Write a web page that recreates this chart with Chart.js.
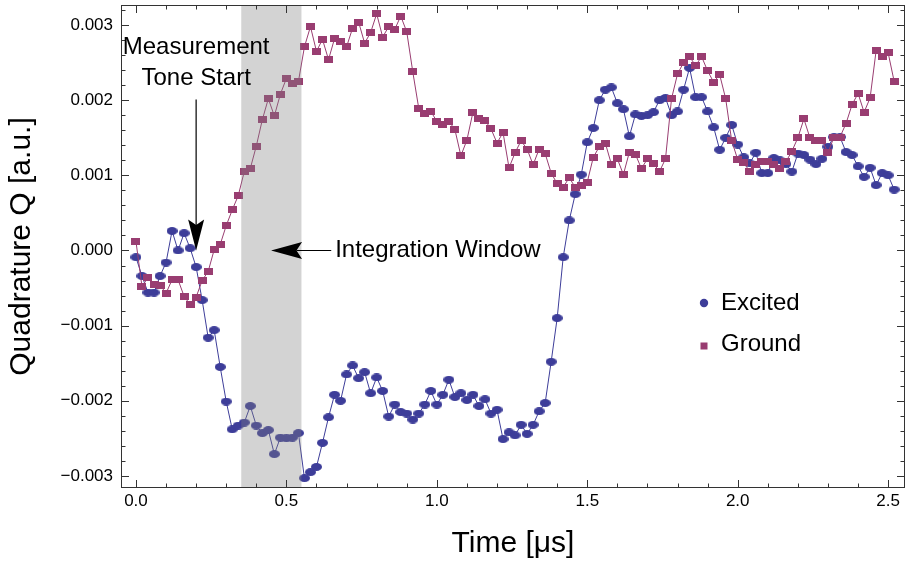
<!DOCTYPE html>
<html>
<head>
<meta charset="utf-8">
<script src="https://cdn.jsdelivr.net/npm/chart.js@4.4.0/dist/chart.umd.min.js"></script>
<style>
html,body{margin:0;padding:0;background:#fff;}
#wrap{width:910px;height:566px;position:relative;}
</style>
</head>
<body>
<div id="wrap"><canvas id="c" width="910" height="566"></canvas></div>
<script>
// ---- data ----
const times = [
  0.00,0.02,0.04,0.06,0.08,0.10,0.12,0.14,0.16,0.18,
  0.20,0.22,0.24,0.26,0.28,0.30,0.32,0.34,0.36,0.38,
  0.40,0.42,0.44,0.46,0.48,0.50,0.52,0.54,0.56,0.58,
  0.60,0.62,0.64,0.66,0.68,0.70,0.72,0.74,0.76,0.78,
  0.80,0.82,0.84,0.86,0.88,0.90,0.92,0.94,0.96,0.98,
  1.00,1.02,1.04,1.06,1.08,1.10,1.12,1.14,1.16,1.18,
  1.20,1.22,1.24,1.26,1.28,1.30,1.32,1.34,1.36,1.38,
  1.40,1.42,1.44,1.46,1.48,1.50,1.52,1.54,1.56,1.58,
  1.60,1.62,1.64,1.66,1.68,1.70,1.72,1.74,1.76,1.78,
  1.80,1.82,1.84,1.86,1.88,1.90,1.92,1.94,1.96,1.98,
  2.00,2.02,2.04,2.06,2.08,2.10,2.12,2.14,2.16,2.18,
  2.20,2.22,2.24,2.26,2.28,2.30,2.32,2.34,2.36,2.38,
  2.40,2.42,2.44,2.46,2.48,2.50,2.52
];
const excited = [
  -0.00009,-0.00034,-0.00056,-0.00056,-0.00034,-0.00016,0.00026,0.00000,0.00023,0.00003,
  -0.00022,-0.00066,-0.00116,-0.00106,-0.00155,-0.00201,-0.00238,-0.00233,-0.00229,-0.00207,
  -0.00233,-0.00243,-0.00239,-0.00271,-0.00249,-0.00250,-0.00249,-0.00243,-0.00303,-0.00295,
  -0.00288,-0.00256,-0.00222,-0.00192,-0.00200,-0.00165,-0.00153,-0.00170,-0.00162,-0.00190,
  -0.00169,-0.00187,-0.00221,-0.00205,-0.00215,-0.00217,-0.00225,-0.00217,-0.00205,-0.00187,
  -0.00205,-0.00192,-0.00172,-0.00195,-0.00190,-0.00199,-0.00192,-0.00207,-0.00198,-0.00217,
  -0.00212,-0.00251,-0.00242,-0.00246,-0.00232,-0.00244,-0.00232,-0.00214,-0.00203,-0.00148,
  -0.00090,-0.00009,0.00040,0.00075,0.00101,0.00144,0.00163,0.00200,0.00214,0.00217,
  0.00196,0.00188,0.00152,0.00181,0.00179,0.00180,0.00184,0.00200,0.00203,0.00180,
  0.00185,0.00214,0.00243,0.00204,0.00204,0.00185,0.00164,0.00134,0.00150,0.00167,
  0.00141,0.00124,0.00116,0.00130,0.00103,0.00103,0.00123,0.00120,0.00115,0.00105,
  0.00129,0.00127,0.00121,0.00115,0.00122,0.00138,0.00151,0.00151,0.00131,0.00127,
  0.00112,0.00098,0.00110,0.00087,0.00103,0.00100,0.00081
];
const ground = [
  0.00012,-0.00048,-0.00036,-0.00045,-0.00046,-0.00057,-0.00039,-0.00039,-0.00061,-0.00072,
  -0.00062,-0.00040,-0.00028,0.00001,0.00008,0.00033,0.00054,0.00073,0.00105,0.00109,
  0.00139,0.00174,0.00202,0.00179,0.00208,0.00229,0.00222,0.00225,0.00271,0.00298,
  0.00265,0.00281,0.00254,0.00282,0.00278,0.00271,0.00296,0.00304,0.00276,0.00290,
  0.00315,0.00284,0.00298,0.00294,0.00312,0.00291,0.00238,0.00189,0.00182,0.00185,
  0.00172,0.00168,0.00172,0.00161,0.00126,0.00147,0.00184,0.00175,0.00173,0.00162,
  0.00143,0.00157,0.00110,0.00130,0.00146,0.00135,0.00114,0.00135,0.00129,0.00103,
  0.00089,0.00084,0.00097,0.00084,0.00087,0.00091,0.00124,0.00138,0.00143,0.00115,
  0.00122,0.00101,0.00131,0.00128,0.00109,0.00122,0.00116,0.00105,0.00122,0.00202,
  0.00235,0.00250,0.00258,0.00246,0.00258,0.00239,0.00224,0.00234,0.00202,0.00146,
  0.00121,0.00117,0.00105,0.00115,0.00118,0.00118,0.00115,0.00109,0.00118,0.00132,
  0.00150,0.00175,0.00150,0.00147,0.00147,0.00130,0.00151,0.00151,0.00169,0.00194,
  0.00209,0.00184,0.00203,0.00266,0.00258,0.00263,0.00225
];
const seriesNames = ["Excited", "Ground"];
const xTickValues = [0, 0.5, 1.0, 1.5, 2.0, 2.5];
const xTickLabels = ["0.0", "0.5", "1.0", "1.5", "2.0", "2.5"];
const yTickValues = [-0.003, -0.002, -0.001, 0, 0.001, 0.002, 0.003];
const yTickLabels = ["\u22120.003", "\u22120.002", "\u22120.001", "0.000", "0.001", "0.002", "0.003"];
const integrationWindow = [0.35, 0.55];
const xAxisTitle = "Time [\u03bcs]";
const yAxisTitle = "Quadrature Q [a.u.]";
const toneStartText = ["Measurement", "Tone Start"];
const windowText = "Integration Window";

// ---- styles ----
const FONT = "'Liberation Sans', Arial, Helvetica, sans-serif";
const BLUE = "rgb(61,61,153)";
const MAGENTA = "rgb(153,61,113)";

function makeEllipse(color, w, h) {
  const c = document.createElement('canvas');
  c.width = w; c.height = h;
  const g = c.getContext('2d');
  g.fillStyle = color;
  g.beginPath();
  g.ellipse(w / 2, h / 2, w / 2, h / 2, 0, 0, Math.PI * 2);
  g.fill();
  return c;
}
function makeRect(color, w, h) {
  const c = document.createElement('canvas');
  c.width = w; c.height = h;
  const g = c.getContext('2d');
  g.fillStyle = color;
  g.fillRect(0, 0, w, h);
  return c;
}
const circleImg = makeEllipse(BLUE, 11, 8);
const squareImg = makeRect(MAGENTA, 9, 7);

function drawArrow(ctx, x0, y0, x1, y1, headLen, halfW) {
  const dx = x1 - x0, dy = y1 - y0;
  const L = Math.hypot(dx, dy);
  const ux = dx / L, uy = dy / L;
  const px = -uy, py = ux;
  const bx = x1 - ux * headLen, by = y1 - uy * headLen;
  const nx = x1 - ux * headLen * 0.82, ny = y1 - uy * headLen * 0.82;
  ctx.beginPath();
  ctx.moveTo(x0, y0);
  ctx.lineTo(nx, ny);
  ctx.lineWidth = 1.2;
  ctx.strokeStyle = '#000';
  ctx.stroke();
  ctx.beginPath();
  ctx.moveTo(x1, y1);
  ctx.lineTo(bx + px * halfW, by + py * halfW);
  ctx.lineTo(nx, ny);
  ctx.lineTo(bx - px * halfW, by - py * halfW);
  ctx.closePath();
  ctx.fillStyle = '#000';
  ctx.fill();
}

const framePlugin = {
  id: 'framePlugin',
  afterDatasetsDraw(chart) {
    const ctx = chart.ctx;
    const xs = chart.scales.x, ys = chart.scales.y;
    const a = chart.chartArea;
    ctx.save();
    // integration window shading (semi-transparent, over data)
    const wx0 = xs.getPixelForValue(integrationWindow[0]);
    const wx1 = xs.getPixelForValue(integrationWindow[1]);
    ctx.fillStyle = 'rgba(128,128,128,0.35)';
    ctx.fillRect(wx0, a.top, wx1 - wx0, a.bottom - a.top);

    // frame
    ctx.strokeStyle = '#333';
    ctx.lineWidth = 1;
    ctx.strokeRect(Math.round(a.left) + 0.5, Math.round(a.top) + 0.5,
                   Math.round(a.right - a.left) - 1, Math.round(a.bottom - a.top) - 1);
    // ticks
    const major = 8, minor = 4.5;
    ctx.beginPath();
    for (let k = 0; k <= 25; k++) {
      const v = k / 10;
      const px = Math.round(xs.getPixelForValue(v)) + 0.5;
      const len = (k % 5 === 0) ? major : minor;
      ctx.moveTo(px, a.bottom); ctx.lineTo(px, a.bottom - len);
      ctx.moveTo(px, a.top); ctx.lineTo(px, a.top + len);
    }
    for (let k = -15; k <= 16; k++) {
      const v = k * 0.0002;
      const py = Math.round(ys.getPixelForValue(v)) + 0.5;
      const len = (k % 5 === 0) ? major : minor;
      ctx.moveTo(a.left, py); ctx.lineTo(a.left + len, py);
      ctx.moveTo(a.right, py); ctx.lineTo(a.right - len, py);
    }
    ctx.stroke();

    // annotation: Measurement Tone Start
    ctx.fillStyle = '#000';
    ctx.font = '24px ' + FONT;
    ctx.textAlign = 'center';
    ctx.textBaseline = 'alphabetic';
    const tx = xs.getPixelForValue(0.2);
    ctx.fillText(toneStartText[0], tx, ys.getPixelForValue(0.00262));
    ctx.fillText(toneStartText[1], tx, ys.getPixelForValue(0.00220));
    drawArrow(ctx, tx, ys.getPixelForValue(0.00201), tx, ys.getPixelForValue(0.0), 31, 8);

    // annotation: Integration Window
    const ay = ys.getPixelForValue(0.0);
    drawArrow(ctx, xs.getPixelForValue(0.649), ay, xs.getPixelForValue(0.449), ay, 31, 8.5);
    ctx.textAlign = 'left';
    ctx.fillText(windowText, xs.getPixelForValue(0.662), ys.getPixelForValue(-0.000093));

    // legend
    const lx = a.left + 583;
    ctx.font = '24px ' + FONT;
    ctx.textBaseline = 'middle';
    ctx.fillStyle = BLUE;
    ctx.beginPath();
    ctx.arc(lx, a.top + 298, 4.2, 0, Math.PI * 2);
    ctx.fill();
    ctx.fillStyle = MAGENTA;
    ctx.fillRect(lx - 3.5, a.top + 341 - 3.5, 7, 7);
    ctx.fillStyle = '#000';
    ctx.fillText(seriesNames[0], lx + 17, a.top + 298);
    ctx.fillText(seriesNames[1], lx + 17, a.top + 339);
    ctx.restore();
  }
};

const excitedPts = times.map((t, i) => ({x: t, y: excited[i]}));
const groundPts = times.map((t, i) => ({x: t, y: ground[i]}));

new Chart(document.getElementById('c'), {
  type: 'scatter',
  data: {
    datasets: [
      {
        label: seriesNames[0], data: excitedPts, order: 1,
        showLine: true, borderColor: BLUE, borderWidth: 1,
        pointStyle: circleImg, pointRadius: 4, backgroundColor: BLUE
      },
      {
        label: seriesNames[1], data: groundPts, order: 0,
        showLine: true, borderColor: MAGENTA, borderWidth: 1,
        pointStyle: squareImg, pointRadius: 4, backgroundColor: MAGENTA
      }
    ]
  },
  options: {
    responsive: false,
    animation: false,
    devicePixelRatio: 1,
    layout: {padding: {top: 2, right: 2, left: 0, bottom: 0}},
    plugins: {legend: {display: false}, tooltip: {enabled: false}},
    scales: {
      x: {
        type: 'linear', min: -0.0497, max: 2.556,
        afterBuildTicks: s => { s.ticks = xTickValues.map(v => ({value: v})); },
        ticks: {
          callback: (v) => xTickLabels[xTickValues.indexOf(v)],
          font: {family: FONT, size: 17}, color: '#000', padding: 3,
          maxRotation: 0, autoSkip: false
        },
        grid: {display: false, drawTicks: false},
        border: {display: false},
        title: {display: true, text: xAxisTitle, color: '#000',
                font: {family: FONT, size: 30}, padding: {top: 0, bottom: 4}},
        afterFit: s => { s.height = 78; s.paddingLeft = 0; s.paddingRight = 0; }
      },
      y: {
        type: 'linear', min: -0.003161, max: 0.003267,
        afterBuildTicks: s => { s.ticks = yTickValues.map(v => ({value: v})); },
        ticks: {
          callback: (v) => yTickLabels[yTickValues.indexOf(v)],
          font: {family: FONT, size: 17}, color: '#000', padding: 8,
          autoSkip: false
        },
        grid: {display: false, drawTicks: false},
        border: {display: false},
        title: {display: true, text: yAxisTitle, color: '#000',
                font: {family: FONT, size: 30}, padding: {top: 4, bottom: 0}},
        afterFit: s => { s.width = 121; s.paddingTop = 0; s.paddingBottom = 0; }
      }
    }
  },
  plugins: [framePlugin]
});
</script>
</body>
</html>
